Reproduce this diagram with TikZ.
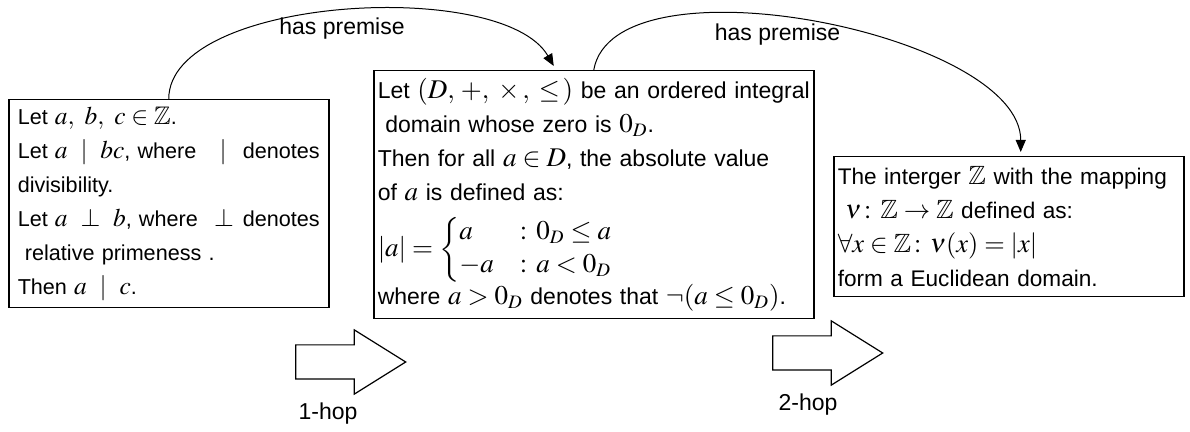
\documentclass[tikz,border=0pt]{standalone}
\usepackage{amsmath,amssymb}
\usepackage{mathptmx}
\usepackage[no-math]{fontspec}
\setmainfont{Liberation Sans}
\usetikzlibrary{arrows.meta,positioning,shapes.arrows}
\DeclareMathSizes{11.5}{13.5}{9.5}{7.5}
\DeclareMathSizes{11.3}{13.2}{9.3}{7.3}
\DeclareMathSizes{10.8}{12.7}{9}{7}

\begin{document}
\begin{tikzpicture}[
  x=0.5pt,y=0.5pt,
  font=\fontsize{11.5}{17}\selectfont,
  stmt/.style={draw,line width=0.75pt,align=left,anchor=north west,inner xsep=2pt,inner ysep=3pt},
  prem/.style={-{Triangle[length=6pt,width=5pt]},line width=0.5pt},
  hoparrow/.style={single arrow,draw,line width=0.6pt,minimum height=55pt,inner xsep=0pt,inner ysep=8.25pt,single arrow head extend=7.5pt,single arrow tip angle=64},
]
\useasboundingbox (0,0) rectangle (1190,-432);
\node[stmt,font=\fontsize{10.8}{17}\selectfont,text width=151pt,minimum width=160pt,minimum height=104pt] (lemA) at (8,-99) {Let $a,\ b,\ c\in\mathbb{Z}$.\\
Let $a\ \mid\ bc$, where \hfill$\mid$\hfill denotes\\
divisibility.\\
Let $a\ \perp\ b$, where \hfill$\perp$\hfill denotes\\
\ relative primeness .\\
Then $a\ \mid\ c$.};
\node[stmt,text width=216pt,minimum height=124pt] (thmB) at (373,-70) {\mbox{Let $(D,\,+,\;\times\,,\;\le\,)$ be an ordered integral}\\
\ domain whose zero is $0_D$.\\
Then for all $a\in D$, the absolute value\\
of $a$ is defined as:\\[7pt]
{\fontsize{11.5}{13.5}\selectfont$|a| = \begin{cases} a & \colon 0_D\le a\\ -a & \colon a<0_D\end{cases}$}\\
where $a>0_D$ denotes that $\neg(a\le 0_D)$.};
\node[stmt,font=\fontsize{11.3}{17}\selectfont,text width=171pt,minimum height=70pt] (defC) at (833,-156) {The interger $\mathbb{Z}$ with the mapping\\
\ $\nu\colon\mathbb{Z}\to\mathbb{Z}$ defined as:\\
$\forall x\in\mathbb{Z}\colon\nu(x)=|x|$\\
form a Euclidean domain.};
\draw[prem] (lemA.north) to[out=90,in=120,looseness=0.68] node[below,pos=0.5] {has premise} ([xshift=-20pt,yshift=2pt]thmB.north);
\draw[prem] (thmB.north) to[out=80,in=90,looseness=0.7] node[below,pos=0.44] {has premise} ([xshift=6pt,yshift=2pt]defC.north);
\node[hoparrow] (hop1) at (337,-362) {};
\node[below=8pt of hop1,xshift=-4.5pt] (hop1lbl) {1-hop};
\node[hoparrow] (hop2) at (814,-353) {};
\node[below=8pt of hop2,xshift=-3pt] (hop2lbl) {2-hop};
\end{tikzpicture}
\end{document}
